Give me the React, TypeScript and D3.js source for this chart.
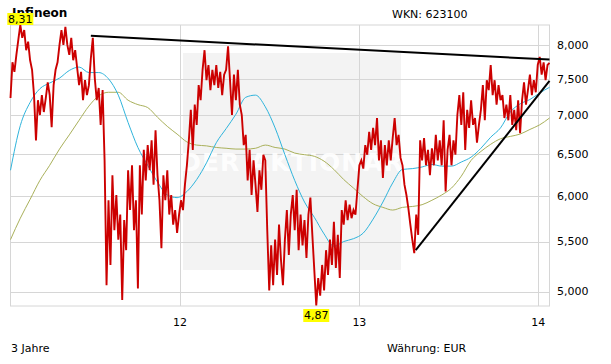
import React from "react";
import * as d3 from "d3";

// Price (EUR), one reading every 4 calendar days starting 2011-01-20
const priceStart = new Date(2011, 0, 20);
const priceStepDays = 4;
const prices = [
  7.23, 7.74, 7.60, 7.85, 8.08, 8.31, 8.11, 8.23, 7.92, 8.05,
  7.77, 7.63, 7.27, 6.67, 7.20, 7.00, 7.27, 7.04, 7.23, 7.45,
  7.27, 6.84, 7.41, 7.63, 7.74, 8.00, 8.23, 8.00, 8.28, 8.00,
  7.85, 8.11, 7.77, 7.92, 7.66, 7.41, 7.60, 7.20, 7.48, 7.27,
  7.41, 7.80, 8.11, 7.51, 7.20, 7.37, 6.87, 7.34, 6.42, 5.06,
  5.95, 5.26, 6.24, 5.62, 6.01, 5.52, 5.79, 4.92, 5.73, 5.41,
  6.30, 5.84, 6.36, 5.62, 5.95, 5.03, 6.36, 5.79, 6.55, 6.18,
  6.61, 6.30, 6.67, 6.13, 6.80, 6.24, 5.95, 5.43, 6.24, 5.95,
  6.30, 5.79, 6.01, 5.68, 5.84, 5.59, 5.79, 5.95, 5.84, 6.13,
  6.36, 6.67, 7.07, 6.55, 7.14, 6.87, 7.41, 7.20, 7.63, 7.92,
  7.48, 7.70, 7.34, 7.63, 7.41, 7.70, 7.37, 7.60, 7.27, 7.56,
  7.63, 7.98, 7.48, 7.00, 7.56, 7.20, 7.63, 7.14, 7.00, 6.61,
  6.74, 6.18, 6.55, 6.01, 6.42, 6.13, 5.82, 6.30, 6.07, 6.49,
  6.42, 5.62, 5.01, 5.46, 5.06, 5.52, 5.16, 5.68, 5.31, 5.06,
  5.52, 5.84, 5.36, 5.79, 6.01, 5.62, 6.07, 5.41, 5.79, 5.46,
  5.73, 5.33, 5.79, 5.98, 5.57, 5.21, 4.87, 5.13, 4.96, 5.26,
  5.01, 5.41, 5.16, 5.52, 5.26, 5.71, 5.23, 5.57, 5.13, 5.84,
  5.68, 5.95, 5.73, 5.90, 5.75, 5.84, 5.79, 6.07, 6.36, 6.42,
  6.32, 6.61, 6.49, 6.78, 6.55, 6.83, 6.61, 6.96, 6.42, 6.67,
  6.21, 6.61, 6.36, 6.67, 6.42, 6.70, 6.96, 6.61, 6.74, 6.45,
  6.36, 6.13, 6.01, 5.86, 5.68, 5.52, 5.38, 5.79, 5.57, 6.67,
  6.42, 6.70, 6.36, 6.55, 6.24, 6.57, 6.36, 6.74, 6.42, 6.67,
  6.36, 6.93, 6.05, 6.55, 6.74, 6.36, 6.67, 6.49, 7.00, 7.27,
  6.87, 7.31, 6.55, 7.07, 6.83, 7.20, 6.87, 6.96, 6.64, 6.87,
  7.07, 7.41, 6.93, 7.48, 7.34, 7.70, 7.27, 7.48, 7.14, 7.41,
  7.20, 7.27, 6.96, 7.14, 6.93, 7.27, 6.87, 7.07, 6.80, 7.20,
  6.76, 7.20, 7.45, 7.14, 7.34, 7.56, 7.27, 7.48, 7.31, 7.70,
  7.82, 7.56, 7.74, 7.48, 7.70, 7.73,
];

// Moving averages, one reading every 20 days from the same start
const maStepDays = 20;
const ma100 = [
  6.30, 6.86, 7.17, 7.36, 7.44, 7.51, 7.62, 7.67, 7.59, 7.59,
  7.50, 7.27, 6.90, 6.58, 6.36, 6.16, 6.01, 5.98, 6.05, 6.19,
  6.39, 6.64, 6.82, 7.01, 7.24, 7.27, 7.11, 6.83, 6.49, 6.18,
  5.93, 5.76, 5.58, 5.45, 5.50, 5.53, 5.59, 5.74, 5.93, 6.15,
  6.31, 6.32, 6.34, 6.37, 6.35, 6.35, 6.40, 6.46, 6.57, 6.71,
  6.83, 7.04, 7.15, 7.21, 7.30, 7.38,
];
const ma200 = [
  5.52, 5.75, 5.96, 6.18, 6.36, 6.56, 6.74, 6.93, 7.12, 7.26,
  7.31, 7.31, 7.20, 7.14, 7.10, 6.97, 6.85, 6.75, 6.65, 6.61,
  6.60, 6.58, 6.57, 6.56, 6.56, 6.57, 6.61, 6.58, 6.56, 6.51,
  6.49, 6.47, 6.41, 6.31, 6.19, 6.09, 5.99, 5.91, 5.87, 5.84,
  5.87, 5.88, 5.90, 5.95, 6.01, 6.09, 6.23, 6.42, 6.53, 6.62,
  6.69, 6.72, 6.75, 6.81, 6.87, 6.96,
];

// Trend lines: [date, value] endpoints
const trendLines: [Date, number][][] = [
  [[new Date(2011, 6, 3), 8.14], [new Date(2014, 0, 24), 7.78]],
  [[new Date(2013, 3, 26), 5.41], [new Date(2014, 0, 24), 7.47]],
];

const yTicks = [5, 5.5, 6, 6.5, 7, 7.5, 8];
const xTicks = [new Date(2012, 0, 1), new Date(2013, 0, 1), new Date(2014, 0, 1)];

const title = "Infineon";
const wkn = "WKN: 623100";
const periodLabel = "3 Jahre";
const currencyLabel = "Währung: EUR";
const watermark = "DER AKTIONÄR";

const W = 611, H = 364;
const L = 10.5, R = 549.5, T = 25, B = 306;
const FONT = "'DejaVu Sans', Verdana, sans-serif";

const de = d3.formatLocale({ decimal: ",", thousands: ".", grouping: [3], currency: ["", "€"] });
const fmtAxis = de.format(".3f");
const fmtVal = de.format(".2f");

export default function App() {
  const x = d3.scaleTime().domain([new Date(2011, 0, 20), new Date(2014, 0, 24)]).range([L, R]);
  const y = d3.scaleLog().domain([4.864, 8.31]).range([B, T]);

  const priceData = prices.map((v, i) => ({ d: d3.timeDay.offset(priceStart, i * priceStepDays), v }));
  const ma100Data = ma100.map((v, i) => ({ d: d3.timeDay.offset(priceStart, i * maStepDays), v }));
  const ma200Data = ma200.map((v, i) => ({ d: d3.timeDay.offset(priceStart, i * maStepDays), v }));

  const line = d3.line<{ d: Date; v: number }>().x((p) => x(p.d)).y((p) => y(p.v));
  const smooth = d3.line<{ d: Date; v: number }>().x((p) => x(p.d)).y((p) => y(p.v)).curve(d3.curveMonotoneX);

  const maxI = d3.maxIndex(priceData, (p) => p.v);
  const minI = d3.minIndex(priceData, (p) => p.v);
  const maxP = priceData[maxI];
  const minP = priceData[minI];

  const gridColor = "#d6d6d6";

  return (
    <svg width={W} height={H} style={{ position: "absolute", left: 0, top: 0, background: "#fff" }} fontFamily={FONT}>
      <rect x={0} y={0} width={W} height={H} fill="#fff" />
      {/* watermark panel */}
      <rect x={183} y={53} width={218} height={217} fill="#f3f3f3" />
      {/* grid */}
      {yTicks.map((t) => (
        <line key={t} x1={L} x2={R} y1={Math.round(y(t)) + 0.5} y2={Math.round(y(t)) + 0.5} stroke={gridColor} />
      ))}
      {xTicks.map((t, i) => (
        <line key={i} x1={Math.round(x(t)) + 0.5} x2={Math.round(x(t)) + 0.5} y1={T} y2={B} stroke={gridColor} />
      ))}
      <rect x={L} y={T} width={R - L} height={B - T} fill="none" stroke={gridColor} />
      <text x={292} y={171} textAnchor="middle" fontSize={25} fontWeight="bold" fill="#fff" opacity={0.9} letterSpacing={1}>
        {watermark}
      </text>
      {/* moving averages */}
      <path d={smooth(ma200Data) || ""} fill="none" stroke="#a9b05a" strokeWidth={1} />
      <path d={smooth(ma100Data) || ""} fill="none" stroke="#2fb4dc" strokeWidth={1} />
      {/* price */}
      <path d={line(priceData) || ""} fill="none" stroke="#cc0000" strokeWidth={1.9} strokeLinejoin="miter" />
      {/* trend lines */}
      {trendLines.map((tl, i) => (
        <line key={i} x1={x(tl[0][0])} y1={y(tl[0][1])} x2={x(tl[1][0])} y2={y(tl[1][1])} stroke="#000" strokeWidth={2} />
      ))}
      {/* right axis labels */}
      {yTicks.map((t) => (
        <text key={t} x={557} y={y(t)} dy="0.35em" fontSize={11} fill="#000">
          {fmtAxis(t)}
        </text>
      ))}
      {/* x axis labels */}
      {xTicks.map((t, i) => (
        <text key={i} x={x(t)} y={322} dy="0.35em" textAnchor="middle" fontSize={11} fill="#000">
          {d3.timeFormat("%y")(t)}
        </text>
      ))}
      {/* titles */}
      <text x={12} y={17} fontSize={12} fontWeight="bold" fill="#000">{title}</text>
      <text x={392} y={18} fontSize={11} fill="#000">{wkn}</text>
      <text x={11} y={348} dy="0.35em" fontSize={11} fill="#000">{periodLabel}</text>
      <text x={387} y={348} dy="0.35em" fontSize={11} fill="#000">{currencyLabel}</text>
      {/* max / min markers */}
      <g transform={`translate(${Math.max(x(maxP.d), 20)},${T})`}>
        <rect x={-13} y={-12} width={26} height={12} fill="#ffff00" />
        <text x={0} y={-6} dy="0.35em" textAnchor="middle" fontSize={11} fill="#000">{fmtVal(maxP.v)}</text>
      </g>
      <g transform={`translate(${x(minP.d)},${B + 3})`}>
        <rect x={-13} y={0} width={26} height={13} fill="#ffff00" />
        <text x={0} y={6.5} dy="0.35em" textAnchor="middle" fontSize={11} fill="#000">{fmtVal(minP.v)}</text>
      </g>
    </svg>
  );
}
